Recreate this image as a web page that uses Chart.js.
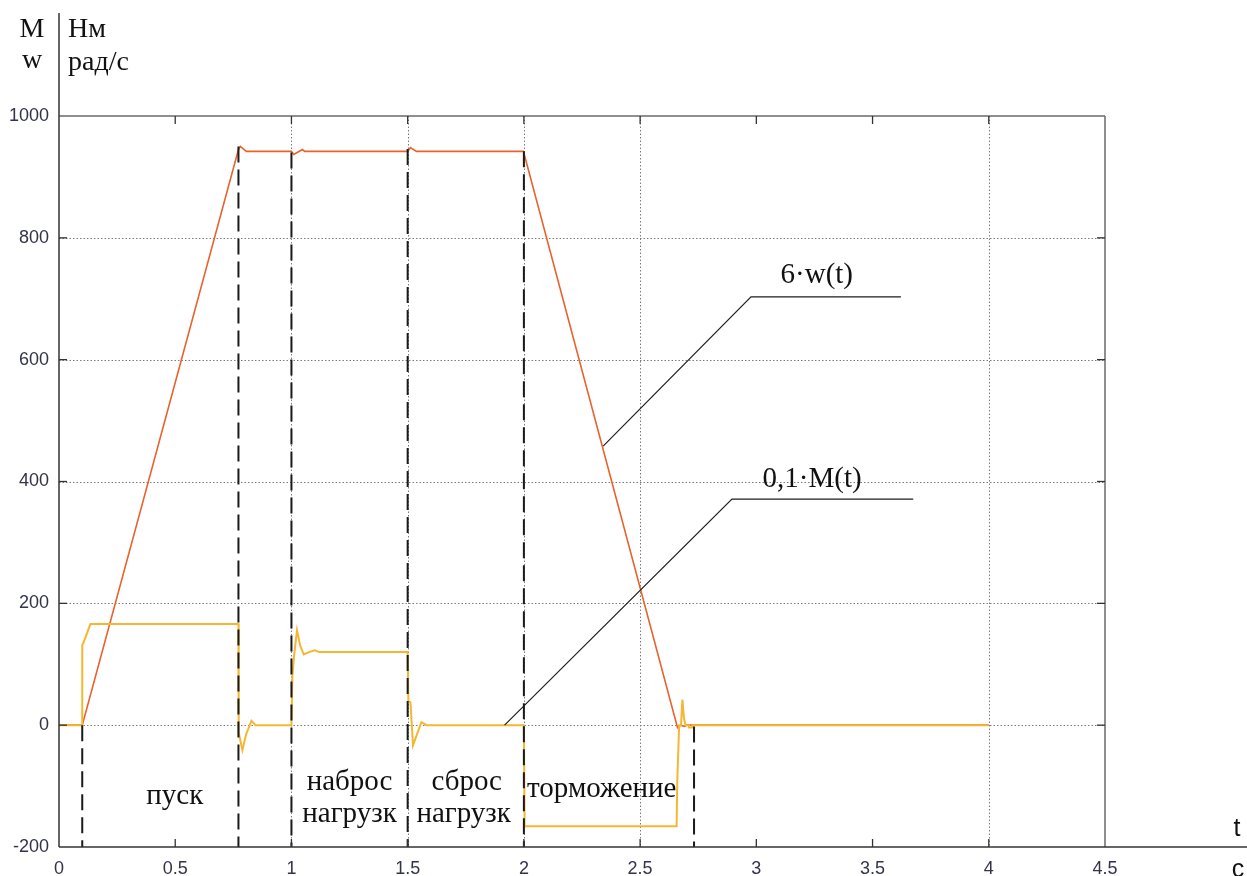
<!DOCTYPE html>
<html>
<head>
<meta charset="utf-8">
<script src="https://cdn.jsdelivr.net/npm/chart.js@4.4.0/dist/chart.umd.min.js"></script>
<style>
  html, body { margin: 0; padding: 0; background: #fff; }
  #wrap { width: 1247px; height: 876px; position: relative; }
</style>
</head>
<body>
<div id="wrap"><canvas id="drive"></canvas></div>
<script>
// Пуск, наброс/сброс нагрузки и торможение двигателя: 6·w(t) и 0,1·M(t)

// скорость, 6·w(t)
const tW = [0, 0.1, 0.772, 0.780, 0.806, 1.0, 1.010, 1.047, 1.057, 1.5, 1.512, 1.538, 1.998, 2.661, 2.675, 2.690, 2.700, 4.0];
const w6 = [0, 0, 945, 950, 942, 942, 937, 945, 942, 942, 948, 942, 942, -4, 0, -2, 0, 0];

// момент, 0,1·M(t)
const tM = [0, 0.1, 0.1, 0.105, 0.135, 0.772, 0.773, 0.789, 0.805, 0.828, 0.846, 1.0, 1.004, 1.011, 1.024, 1.038, 1.053, 1.075, 1.10, 1.12,
            1.5, 1.503, 1.512, 1.523, 1.540, 1.559, 1.581, 2.0, 2.003, 2.657, 2.660, 2.668, 2.676, 2.682, 2.689, 2.696, 2.710, 2.710, 2.725, 2.725, 4.0];
const m01 = [0, 0, 132, 135, 166, 166, -12, -41, -15, 7, 0, 0, 80, 113, 156, 130, 116, 120, 123, 120,
             120, 40, 37, -33, -15, 5, 0, 0, -166, -166, -90, 0, 0, 42, 10, 0, 0, -4, -4, 0, 0];

// границы режимов (штриховые линии)
const markT = [0.1, 0.772, 1.0, 1.5, 2.0, 2.732];
const markTop = [0, 950, 940, 946, 942, -2];

// выноски к кривым
const leaderWT = [2.341, 2.977, 3.622];
const leaderWV = [458, 703, 703];
const leaderMT = [1.917, 2.895, 3.675];
const leaderMV = [0, 371, 371];

// подписи
const phaseText = ['пуск', 'наброс', 'нагрузк', 'сброс', 'нагрузк', 'торможение', '6·w(t)', '0,1·M(t)'];
const phaseT = [0.498, 1.25, 1.25, 1.754, 1.741, 2.335, 3.26, 3.24];
const phaseV = [-117, -94, -146, -94, -146, -105, 738, 403];

// оси
const xTicks = [0, 0.5, 1, 1.5, 2, 2.5, 3, 3.5, 4, 4.5];
const yTicks = [-200, 0, 200, 400, 600, 800, 1000];
const xGrid = [1, 1.5, 2, 2.5, 4];
const yGrid = [0, 200, 400, 600, 800];

const pts = (ts, vs) => ts.map((t, i) => ({ x: t, y: vs[i] }));

const SERIF = "'Liberation Serif', 'Times New Roman', serif";
const SANS = "'Liberation Sans', Arial, sans-serif";

const datasets = [
  { data: pts(leaderWT, leaderWV), borderColor: '#1e1e1e', borderWidth: 1.2, order: 0 },
  { data: pts(leaderMT, leaderMV), borderColor: '#1e1e1e', borderWidth: 1.2, order: 0 },
  ...markT.map((t, i) => ({
    data: [{ x: t, y: markTop[i] }, { x: t, y: -200 }],
    borderColor: '#1a1a1a', borderWidth: 2, borderDash: [16, 7], order: 1
  })),
  { data: pts(tM, m01), borderColor: '#f5b731', borderWidth: 2, order: 2 },
  { data: pts(tW, w6), borderColor: '#e8622c', borderWidth: 1.6, order: 3 }
];

function seg(ctx, x1, y1, x2, y2) {
  ctx.beginPath(); ctx.moveTo(x1, y1); ctx.lineTo(x2, y2); ctx.stroke();
}

const decor = {
  id: 'decor',
  beforeDatasetsDraw(chart) {
    const { ctx, chartArea: a, scales: { x, y } } = chart;
    ctx.save();
    ctx.strokeStyle = '#7c7c7c';
    ctx.lineWidth = 1;
    ctx.setLineDash([1.5, 2]);
    yGrid.forEach(v => {
      const py = Math.round(y.getPixelForValue(v)) + 0.5;
      seg(ctx, a.left, py, a.right, py);
    });
    xGrid.forEach(t => {
      const px = Math.round(x.getPixelForValue(t)) + 0.5;
      seg(ctx, px, a.top, px, a.bottom);
    });
    ctx.restore();
  },
  afterDatasetsDraw(chart) {
    const { ctx, chartArea: a, scales: { x, y } } = chart;
    ctx.save();

    // рамка
    ctx.strokeStyle = '#6a6a6a';
    ctx.lineWidth = 1.5;
    seg(ctx, a.left, a.top, a.right, a.top);
    seg(ctx, a.right, a.top, a.right, a.bottom);
    ctx.strokeStyle = '#333';
    seg(ctx, a.left, 13, a.left, a.bottom);
    seg(ctx, a.left, a.bottom, chart.width, a.bottom);

    // засечки внутрь поля
    ctx.lineWidth = 1.3;
    xTicks.slice(1, -1).forEach(t => {
      const px = x.getPixelForValue(t);
      seg(ctx, px, a.bottom, px, a.bottom - 8);
      seg(ctx, px, a.top, px, a.top + 8);
    });
    yTicks.slice(1, -1).forEach(v => {
      const py = y.getPixelForValue(v);
      seg(ctx, a.left, py, a.left + 8, py);
      seg(ctx, a.right, py, a.right - 8, py);
    });

    // обозначения осей
    ctx.fillStyle = '#111';
    ctx.textBaseline = 'middle';
    ctx.font = '28px ' + SERIF;
    ctx.textAlign = 'center';
    ctx.fillText('M', a.left - 27, 30);
    ctx.fillText('w', a.left - 27, 61);
    ctx.textAlign = 'left';
    ctx.fillText('Нм', a.left + 9, 30);
    ctx.fillText('рад/с', a.left + 9, 63);
    ctx.font = '25px ' + SANS;
    ctx.textAlign = 'center';
    ctx.fillText('t', chart.width - 10, a.bottom - 18);
    ctx.fillText('c', chart.width - 9, a.bottom + 23);

    // режимы и выноски
    ctx.font = '29px ' + SERIF;
    phaseText.forEach((s, i) => {
      ctx.fillText(s, x.getPixelForValue(phaseT[i]), y.getPixelForValue(phaseV[i]));
    });
    ctx.restore();
  }
};

new Chart(document.getElementById('drive'), {
  type: 'line',
  data: { datasets },
  plugins: [decor],
  options: {
    responsive: true,
    maintainAspectRatio: false,
    animation: false,
    layout: { padding: { left: 0, top: 116, right: 142, bottom: 0 } },
    elements: { point: { radius: 0 }, line: { tension: 0, fill: false } },
    plugins: { legend: { display: false }, tooltip: { enabled: false }, title: { display: false } },
    scales: {
      x: {
        type: 'linear', min: 0, max: 4.5,
        afterBuildTicks: s => { s.ticks = xTicks.map(v => ({ value: v })); },
        afterFit: s => { s.height = 29; },
        grid: { display: false, drawTicks: false },
        border: { display: false },
        ticks: { padding: 11, color: '#33334a', font: { family: SANS, size: 18 }, callback: v => String(v), maxRotation: 0, autoSkip: false }
      },
      y: {
        type: 'linear', min: -200, max: 1000,
        afterBuildTicks: s => { s.ticks = yTicks.map(v => ({ value: v })); },
        afterFit: s => { s.width = 59; },
        grid: { display: false, drawTicks: false },
        border: { display: false },
        ticks: { padding: 10, color: '#33334a', font: { family: SANS, size: 18 }, callback: v => String(v) }
      }
    }
  }
});
</script>
</body>
</html>
